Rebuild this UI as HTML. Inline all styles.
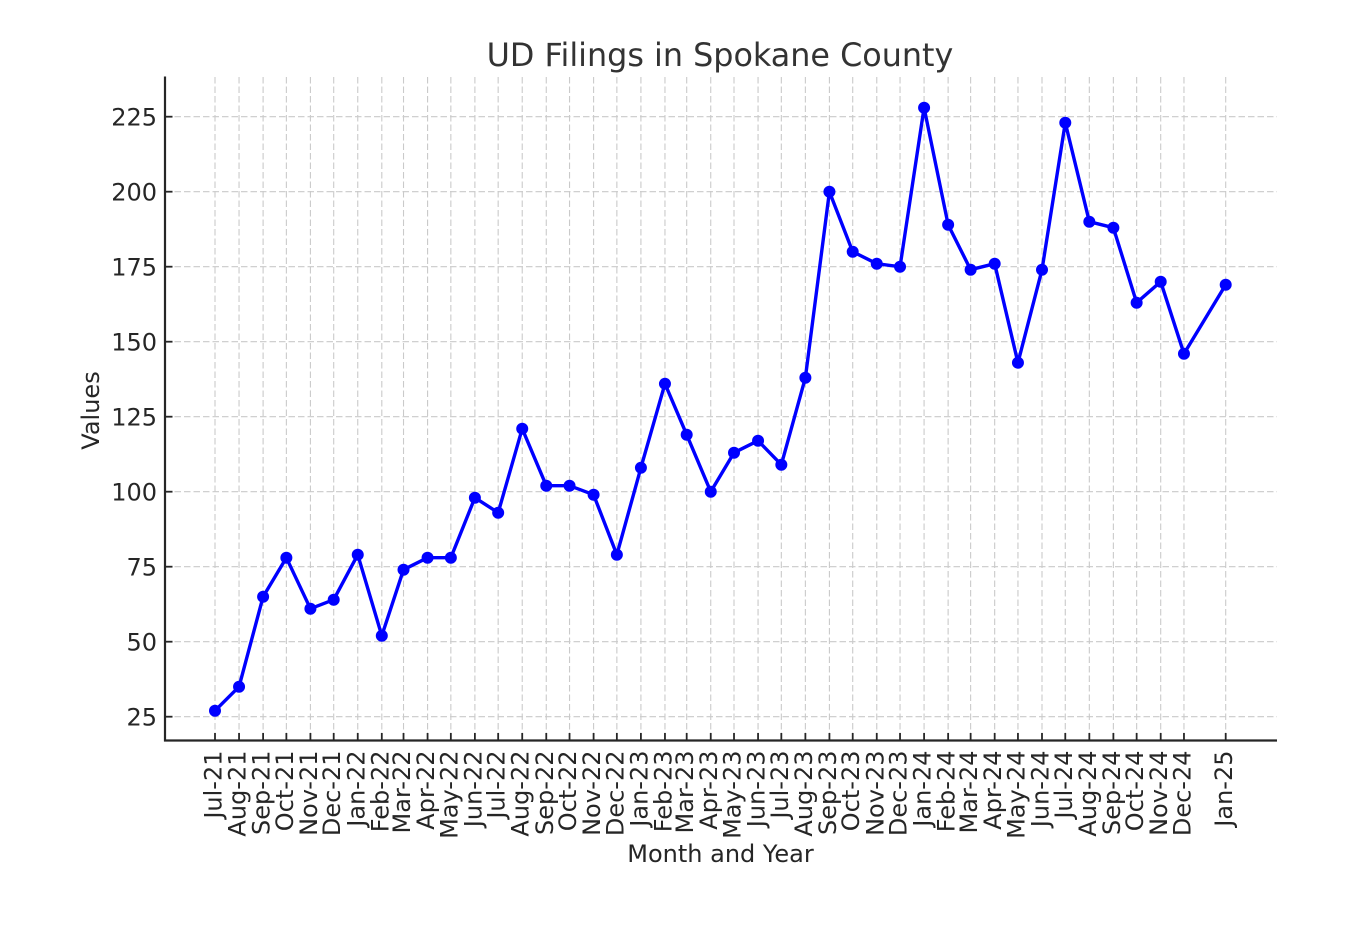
<!DOCTYPE html>
<html>
<head>
<meta charset="utf-8">
<style>
  html, body { margin: 0; padding: 0; background: #ffffff; }
  svg { display: block; }
  text { font-family: "DejaVu Sans", "Liberation Sans", sans-serif; fill: #262626; }
</style>
</head>
<body>
<svg width="1370" height="942" viewBox="0 0 1370 942" xmlns="http://www.w3.org/2000/svg">
  <rect x="0" y="0" width="1370" height="942" fill="#ffffff"/>

  <!-- grid -->
  <g stroke="#cacaca" stroke-width="1.1" stroke-dasharray="6.5 3" fill="none">
    <line x1="165" x2="1277" y1="716.7" y2="716.7"/>
    <line x1="165" x2="1277" y1="641.7" y2="641.7"/>
    <line x1="165" x2="1277" y1="566.7" y2="566.7"/>
    <line x1="165" x2="1277" y1="491.7" y2="491.7"/>
    <line x1="165" x2="1277" y1="416.7" y2="416.7"/>
    <line x1="165" x2="1277" y1="341.7" y2="341.7"/>
    <line x1="165" x2="1277" y1="266.7" y2="266.7"/>
    <line x1="165" x2="1277" y1="191.7" y2="191.7"/>
    <line x1="165" x2="1277" y1="116.7" y2="116.7"/>
    <line y1="77" y2="740" x1="215" x2="215"/>
    <line y1="77" y2="740" x1="239.05" x2="239.05"/>
    <line y1="77" y2="740" x1="263.1" x2="263.1"/>
    <line y1="77" y2="740" x1="286.37" x2="286.37"/>
    <line y1="77" y2="740" x1="310.42" x2="310.42"/>
    <line y1="77" y2="740" x1="333.7" x2="333.7"/>
    <line y1="77" y2="740" x1="357.75" x2="357.75"/>
    <line y1="77" y2="740" x1="381.8" x2="381.8"/>
    <line y1="77" y2="740" x1="403.52" x2="403.52"/>
    <line y1="77" y2="740" x1="427.57" x2="427.57"/>
    <line y1="77" y2="740" x1="450.84" x2="450.84"/>
    <line y1="77" y2="740" x1="474.89" x2="474.89"/>
    <line y1="77" y2="740" x1="498.17" x2="498.17"/>
    <line y1="77" y2="740" x1="522.22" x2="522.22"/>
    <line y1="77" y2="740" x1="546.27" x2="546.27"/>
    <line y1="77" y2="740" x1="569.54" x2="569.54"/>
    <line y1="77" y2="740" x1="593.59" x2="593.59"/>
    <line y1="77" y2="740" x1="616.86" x2="616.86"/>
    <line y1="77" y2="740" x1="640.91" x2="640.91"/>
    <line y1="77" y2="740" x1="664.96" x2="664.96"/>
    <line y1="77" y2="740" x1="686.69" x2="686.69"/>
    <line y1="77" y2="740" x1="710.74" x2="710.74"/>
    <line y1="77" y2="740" x1="734.01" x2="734.01"/>
    <line y1="77" y2="740" x1="758.06" x2="758.06"/>
    <line y1="77" y2="740" x1="781.33" x2="781.33"/>
    <line y1="77" y2="740" x1="805.38" x2="805.38"/>
    <line y1="77" y2="740" x1="829.43" x2="829.43"/>
    <line y1="77" y2="740" x1="852.71" x2="852.71"/>
    <line y1="77" y2="740" x1="876.76" x2="876.76"/>
    <line y1="77" y2="740" x1="900.03" x2="900.03"/>
    <line y1="77" y2="740" x1="924.08" x2="924.08"/>
    <line y1="77" y2="740" x1="948.13" x2="948.13"/>
    <line y1="77" y2="740" x1="970.63" x2="970.63"/>
    <line y1="77" y2="740" x1="994.68" x2="994.68"/>
    <line y1="77" y2="740" x1="1017.95" x2="1017.95"/>
    <line y1="77" y2="740" x1="1042" x2="1042"/>
    <line y1="77" y2="740" x1="1065.28" x2="1065.28"/>
    <line y1="77" y2="740" x1="1089.33" x2="1089.33"/>
    <line y1="77" y2="740" x1="1113.38" x2="1113.38"/>
    <line y1="77" y2="740" x1="1136.65" x2="1136.65"/>
    <line y1="77" y2="740" x1="1160.7" x2="1160.7"/>
    <line y1="77" y2="740" x1="1183.97" x2="1183.97"/>
    <line y1="77" y2="740" x1="1225.7" x2="1225.7"/>
  </g>

  <!-- data line -->
  <polyline fill="none" stroke="#0000ff" stroke-width="3.4" stroke-linejoin="round" stroke-linecap="butt"
    points="215,710.7 239.05,686.7 263.1,596.7 286.37,557.7 310.42,608.7 333.7,599.7 357.75,554.7 381.8,635.7 403.52,569.7 427.57,557.7 450.84,557.7 474.89,497.7 498.17,512.7 522.22,428.7 546.27,485.7 569.54,485.7 593.59,494.7 616.86,554.7 640.91,467.7 664.96,383.7 686.69,434.7 710.74,491.7 734.01,452.7 758.06,440.7 781.33,464.7 805.38,377.7 829.43,191.7 852.71,251.7 876.76,263.7 900.03,266.7 924.08,107.7 948.13,224.7 970.63,269.7 994.68,263.7 1017.95,362.7 1042,269.7 1065.28,122.7 1089.33,221.7 1113.38,227.7 1136.65,302.7 1160.7,281.7 1183.97,353.7 1225.7,284.7"/>

  <!-- markers -->
  <g fill="#0000ff">
    <circle cx="215" cy="710.7" r="6"/>
    <circle cx="239.05" cy="686.7" r="6"/>
    <circle cx="263.1" cy="596.7" r="6"/>
    <circle cx="286.37" cy="557.7" r="6"/>
    <circle cx="310.42" cy="608.7" r="6"/>
    <circle cx="333.7" cy="599.7" r="6"/>
    <circle cx="357.75" cy="554.7" r="6"/>
    <circle cx="381.8" cy="635.7" r="6"/>
    <circle cx="403.52" cy="569.7" r="6"/>
    <circle cx="427.57" cy="557.7" r="6"/>
    <circle cx="450.84" cy="557.7" r="6"/>
    <circle cx="474.89" cy="497.7" r="6"/>
    <circle cx="498.17" cy="512.7" r="6"/>
    <circle cx="522.22" cy="428.7" r="6"/>
    <circle cx="546.27" cy="485.7" r="6"/>
    <circle cx="569.54" cy="485.7" r="6"/>
    <circle cx="593.59" cy="494.7" r="6"/>
    <circle cx="616.86" cy="554.7" r="6"/>
    <circle cx="640.91" cy="467.7" r="6"/>
    <circle cx="664.96" cy="383.7" r="6"/>
    <circle cx="686.69" cy="434.7" r="6"/>
    <circle cx="710.74" cy="491.7" r="6"/>
    <circle cx="734.01" cy="452.7" r="6"/>
    <circle cx="758.06" cy="440.7" r="6"/>
    <circle cx="781.33" cy="464.7" r="6"/>
    <circle cx="805.38" cy="377.7" r="6"/>
    <circle cx="829.43" cy="191.7" r="6"/>
    <circle cx="852.71" cy="251.7" r="6"/>
    <circle cx="876.76" cy="263.7" r="6"/>
    <circle cx="900.03" cy="266.7" r="6"/>
    <circle cx="924.08" cy="107.7" r="6"/>
    <circle cx="948.13" cy="224.7" r="6"/>
    <circle cx="970.63" cy="269.7" r="6"/>
    <circle cx="994.68" cy="263.7" r="6"/>
    <circle cx="1017.95" cy="362.7" r="6"/>
    <circle cx="1042" cy="269.7" r="6"/>
    <circle cx="1065.28" cy="122.7" r="6"/>
    <circle cx="1089.33" cy="221.7" r="6"/>
    <circle cx="1113.38" cy="227.7" r="6"/>
    <circle cx="1136.65" cy="302.7" r="6"/>
    <circle cx="1160.7" cy="281.7" r="6"/>
    <circle cx="1183.97" cy="353.7" r="6"/>
    <circle cx="1225.7" cy="284.7" r="6"/>
  </g>

  <!-- spines -->
  <g stroke="#262626" stroke-width="2.2" fill="none">
    <line x1="165" y1="76.5" x2="165" y2="741.5"/>
    <line x1="164" y1="740.5" x2="1277" y2="740.5"/>
  </g>

  <!-- y ticks (inward) -->
  <g stroke="#262626" stroke-width="1.8">
    <line x1="165" x2="172.5" y1="716.7" y2="716.7"/>
    <line x1="165" x2="172.5" y1="641.7" y2="641.7"/>
    <line x1="165" x2="172.5" y1="566.7" y2="566.7"/>
    <line x1="165" x2="172.5" y1="491.7" y2="491.7"/>
    <line x1="165" x2="172.5" y1="416.7" y2="416.7"/>
    <line x1="165" x2="172.5" y1="341.7" y2="341.7"/>
    <line x1="165" x2="172.5" y1="266.7" y2="266.7"/>
    <line x1="165" x2="172.5" y1="191.7" y2="191.7"/>
    <line x1="165" x2="172.5" y1="116.7" y2="116.7"/>
  </g>

  <!-- x ticks (inward) -->
  <g stroke="#262626" stroke-width="1.8">
    <line y1="740" y2="733" x1="215" x2="215"/>
    <line y1="740" y2="733" x1="239.05" x2="239.05"/>
    <line y1="740" y2="733" x1="263.1" x2="263.1"/>
    <line y1="740" y2="733" x1="286.37" x2="286.37"/>
    <line y1="740" y2="733" x1="310.42" x2="310.42"/>
    <line y1="740" y2="733" x1="333.7" x2="333.7"/>
    <line y1="740" y2="733" x1="357.75" x2="357.75"/>
    <line y1="740" y2="733" x1="381.8" x2="381.8"/>
    <line y1="740" y2="733" x1="403.52" x2="403.52"/>
    <line y1="740" y2="733" x1="427.57" x2="427.57"/>
    <line y1="740" y2="733" x1="450.84" x2="450.84"/>
    <line y1="740" y2="733" x1="474.89" x2="474.89"/>
    <line y1="740" y2="733" x1="498.17" x2="498.17"/>
    <line y1="740" y2="733" x1="522.22" x2="522.22"/>
    <line y1="740" y2="733" x1="546.27" x2="546.27"/>
    <line y1="740" y2="733" x1="569.54" x2="569.54"/>
    <line y1="740" y2="733" x1="593.59" x2="593.59"/>
    <line y1="740" y2="733" x1="616.86" x2="616.86"/>
    <line y1="740" y2="733" x1="640.91" x2="640.91"/>
    <line y1="740" y2="733" x1="664.96" x2="664.96"/>
    <line y1="740" y2="733" x1="686.69" x2="686.69"/>
    <line y1="740" y2="733" x1="710.74" x2="710.74"/>
    <line y1="740" y2="733" x1="734.01" x2="734.01"/>
    <line y1="740" y2="733" x1="758.06" x2="758.06"/>
    <line y1="740" y2="733" x1="781.33" x2="781.33"/>
    <line y1="740" y2="733" x1="805.38" x2="805.38"/>
    <line y1="740" y2="733" x1="829.43" x2="829.43"/>
    <line y1="740" y2="733" x1="852.71" x2="852.71"/>
    <line y1="740" y2="733" x1="876.76" x2="876.76"/>
    <line y1="740" y2="733" x1="900.03" x2="900.03"/>
    <line y1="740" y2="733" x1="924.08" x2="924.08"/>
    <line y1="740" y2="733" x1="948.13" x2="948.13"/>
    <line y1="740" y2="733" x1="970.63" x2="970.63"/>
    <line y1="740" y2="733" x1="994.68" x2="994.68"/>
    <line y1="740" y2="733" x1="1017.95" x2="1017.95"/>
    <line y1="740" y2="733" x1="1042" x2="1042"/>
    <line y1="740" y2="733" x1="1065.28" x2="1065.28"/>
    <line y1="740" y2="733" x1="1089.33" x2="1089.33"/>
    <line y1="740" y2="733" x1="1113.38" x2="1113.38"/>
    <line y1="740" y2="733" x1="1136.65" x2="1136.65"/>
    <line y1="740" y2="733" x1="1160.7" x2="1160.7"/>
    <line y1="740" y2="733" x1="1183.97" x2="1183.97"/>
    <line y1="740" y2="733" x1="1225.7" x2="1225.7"/>
  </g>

  <!-- y tick labels -->
  <g font-size="24" text-anchor="end">
    <text x="157" y="725.6">25</text>
    <text x="157" y="650.6">50</text>
    <text x="157" y="575.6">75</text>
    <text x="157" y="500.6">100</text>
    <text x="157" y="425.6">125</text>
    <text x="157" y="350.6">150</text>
    <text x="157" y="275.6">175</text>
    <text x="157" y="200.6">200</text>
    <text x="157" y="125.6">225</text>
  </g>

  <!-- x tick labels -->
  <g font-size="24" text-anchor="end">
    <text transform="translate(221.5,750.5) rotate(-90)">Jul-21</text>
    <text transform="translate(245.55,750.5) rotate(-90)">Aug-21</text>
    <text transform="translate(269.6,750.5) rotate(-90)">Sep-21</text>
    <text transform="translate(292.87,750.5) rotate(-90)">Oct-21</text>
    <text transform="translate(316.92,750.5) rotate(-90)">Nov-21</text>
    <text transform="translate(340.2,750.5) rotate(-90)">Dec-21</text>
    <text transform="translate(364.25,750.5) rotate(-90)">Jan-22</text>
    <text transform="translate(388.3,750.5) rotate(-90)">Feb-22</text>
    <text transform="translate(410.02,750.5) rotate(-90)">Mar-22</text>
    <text transform="translate(434.07,750.5) rotate(-90)">Apr-22</text>
    <text transform="translate(457.34,750.5) rotate(-90)">May-22</text>
    <text transform="translate(481.39,750.5) rotate(-90)">Jun-22</text>
    <text transform="translate(504.67,750.5) rotate(-90)">Jul-22</text>
    <text transform="translate(528.72,750.5) rotate(-90)">Aug-22</text>
    <text transform="translate(552.77,750.5) rotate(-90)">Sep-22</text>
    <text transform="translate(576.04,750.5) rotate(-90)">Oct-22</text>
    <text transform="translate(600.09,750.5) rotate(-90)">Nov-22</text>
    <text transform="translate(623.36,750.5) rotate(-90)">Dec-22</text>
    <text transform="translate(647.41,750.5) rotate(-90)">Jan-23</text>
    <text transform="translate(671.46,750.5) rotate(-90)">Feb-23</text>
    <text transform="translate(693.19,750.5) rotate(-90)">Mar-23</text>
    <text transform="translate(717.24,750.5) rotate(-90)">Apr-23</text>
    <text transform="translate(740.51,750.5) rotate(-90)">May-23</text>
    <text transform="translate(764.56,750.5) rotate(-90)">Jun-23</text>
    <text transform="translate(787.83,750.5) rotate(-90)">Jul-23</text>
    <text transform="translate(811.88,750.5) rotate(-90)">Aug-23</text>
    <text transform="translate(835.93,750.5) rotate(-90)">Sep-23</text>
    <text transform="translate(859.21,750.5) rotate(-90)">Oct-23</text>
    <text transform="translate(883.26,750.5) rotate(-90)">Nov-23</text>
    <text transform="translate(906.53,750.5) rotate(-90)">Dec-23</text>
    <text transform="translate(930.58,750.5) rotate(-90)">Jan-24</text>
    <text transform="translate(954.63,750.5) rotate(-90)">Feb-24</text>
    <text transform="translate(977.13,750.5) rotate(-90)">Mar-24</text>
    <text transform="translate(1001.18,750.5) rotate(-90)">Apr-24</text>
    <text transform="translate(1024.45,750.5) rotate(-90)">May-24</text>
    <text transform="translate(1048.5,750.5) rotate(-90)">Jun-24</text>
    <text transform="translate(1071.78,750.5) rotate(-90)">Jul-24</text>
    <text transform="translate(1095.83,750.5) rotate(-90)">Aug-24</text>
    <text transform="translate(1119.88,750.5) rotate(-90)">Sep-24</text>
    <text transform="translate(1143.15,750.5) rotate(-90)">Oct-24</text>
    <text transform="translate(1167.2,750.5) rotate(-90)">Nov-24</text>
    <text transform="translate(1190.47,750.5) rotate(-90)">Dec-24</text>
    <text transform="translate(1232.2,750.5) rotate(-90)">Jan-25</text>
  </g>

  <!-- axis labels -->
  <text x="720.5" y="862" font-size="24" text-anchor="middle">Month and Year</text>
  <text transform="translate(99,410.5) rotate(-90)" font-size="24" text-anchor="middle">Values</text>

  <!-- title -->
  <text x="720" y="66" font-size="31.8" text-anchor="middle" style="fill:#333333">UD Filings in Spokane County</text>
</svg>
</body>
</html>
